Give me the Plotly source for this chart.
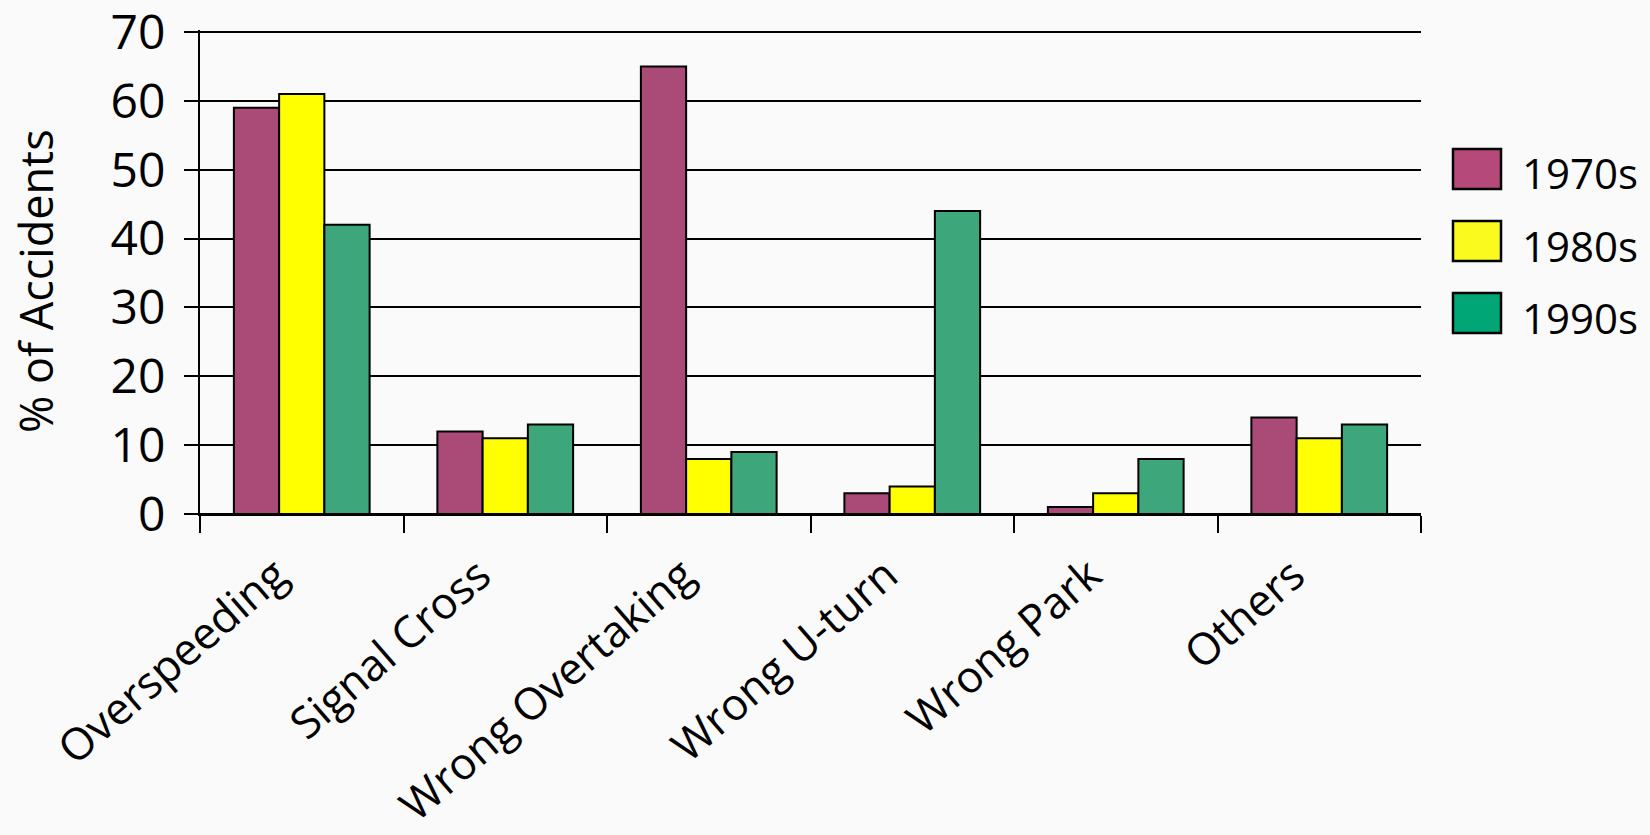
import plotly.graph_objects as go

# Accident causes and share of accidents by decade
categories = ["Overspeeding", "Signal Cross", "Wrong Overtaking", "Wrong U-turn", "Wrong Park", "Others"]
decades = ["1970s", "1980s", "1990s"]
pct_1970s = [59, 12, 65, 3, 1, 14]
pct_1980s = [61, 11, 8, 4, 3, 11]
pct_1990s = [42, 13, 9, 44, 8, 13]

bar_colors = ["#AA4A77", "#FFFF00", "#3DA67B"]
legend_colors = ["#B4497A", "#FAFA1E", "#00A676"]

FONT = "Open Sans"
W, H = 1650, 835
ML, MR, MT, MB = 200, 229, 30, 321

fig = go.Figure()
for name, vals, col in zip(decades, [pct_1970s, pct_1980s, pct_1990s], bar_colors):
    fig.add_trace(go.Bar(
        x=categories, y=vals, name=name, showlegend=False,
        marker=dict(color=col, line=dict(color="black", width=2)),
    ))

# Hand-drawn legend with large swatches to the right of the plot area
pw, ph = W - ML - MR, H - MT - MB


def px_x(x):
    return (x - ML) / pw


def px_y(y):
    return (H - MB - y) / ph


shapes, annotations = [], []
for i, (name, col) in enumerate(zip(decades, legend_colors)):
    top = 149 + i * 72
    shapes.append(dict(
        type="rect", xref="paper", yref="paper",
        x0=px_x(1453), x1=px_x(1501), y0=px_y(top), y1=px_y(top + 40),
        fillcolor=col, line=dict(color="black", width=2.5),
    ))
    annotations.append(dict(
        xref="paper", yref="paper", x=px_x(1520), y=px_y(top + 24),
        text=name, showarrow=False, xanchor="left", yanchor="middle",
        font=dict(family=FONT, size=42, color="black"),
    ))

# Y-axis title placed as a rotated annotation
annotations.append(dict(
    xref="paper", yref="paper", x=px_x(35), y=px_y(281),
    text="% of Accidents", showarrow=False, textangle=-90,
    xanchor="center", yanchor="middle",
    font=dict(family=FONT, size=45, color="black"),
))

fig.update_layout(
    width=W, height=H,
    margin=dict(l=ML, r=MR, t=MT, b=MB, pad=0, autoexpand=False),
    paper_bgcolor="#FAFAFA", plot_bgcolor="#FAFAFA",
    barmode="group", bargap=0.333, bargroupgap=0,
    font=dict(family=FONT, size=44, color="black"),
    shapes=shapes, annotations=annotations,
    xaxis=dict(
        automargin=False,
        showline=True, linecolor="black", linewidth=2,
        ticks="outside", tickson="boundaries", ticklen=17, tickwidth=2, tickcolor="black",
        tickangle=-41, tickfont=dict(family=FONT, size=44),
        ticklabelshift=-26, ticklabelstandoff=16, ticklabeloverflow="allow",
        showgrid=False,
    ),
    yaxis=dict(
        automargin=False,
        range=[0, 70.3], tick0=0, dtick=10,
        showline=True, linecolor="black", linewidth=2,
        ticks="outside", ticklen=14, tickwidth=2, tickcolor="black",
        showgrid=True, gridcolor="black", gridwidth=2,
        zeroline=True, zerolinecolor="black", zerolinewidth=2,
        tickfont=dict(family=FONT, size=48),
        ticklabelstandoff=9, ticklabeloverflow="allow",
    ),
)

fig.write_html("out.html")
